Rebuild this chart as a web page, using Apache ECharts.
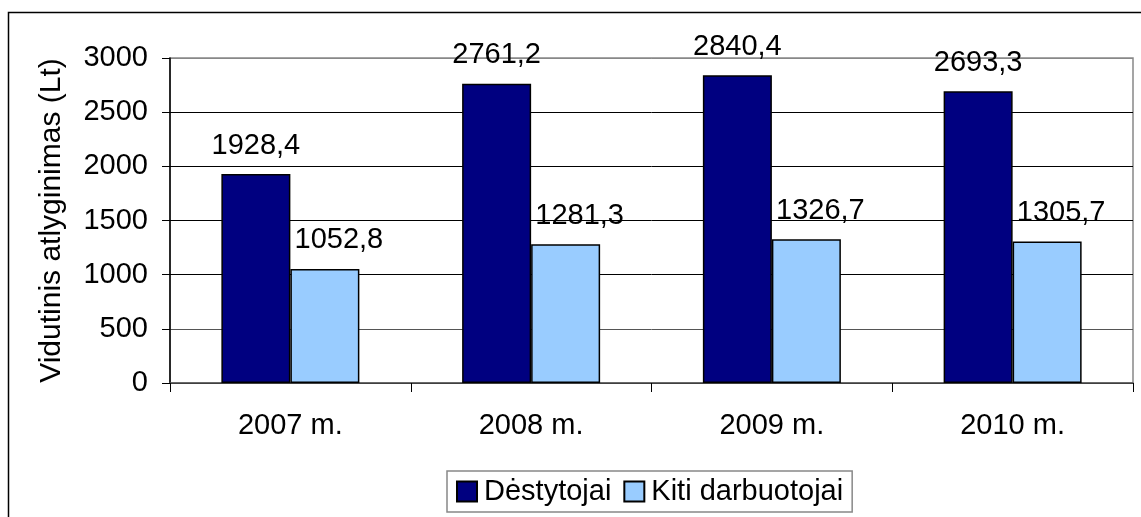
<!DOCTYPE html>
<html>
<head>
<meta charset="utf-8">
<script src="https://cdn.jsdelivr.net/npm/echarts@6/dist/echarts.min.js"></script>
<style>
html,body{margin:0;padding:0;background:#fff;}
#c{width:1141px;height:517px;}
</style>
</head>
<body>
<div id="c"></div>
<script>
const categories = ['2007 m.', '2008 m.', '2009 m.', '2010 m.'];
const destytojai = [1928.4, 2761.2, 2840.4, 2693.3];
const kiti = [1052.8, 1281.3, 1326.7, 1305.7];
const seriesNames = ['Dėstytojai', 'Kiti darbuotojai'];
const yTicks = [0, 500, 1000, 1500, 2000, 2500, 3000];

const FONT = '"Liberation Sans", Arial, sans-serif';
const FS = 29;
const chart = echarts.init(document.getElementById('c'), null, {renderer: 'canvas'});
const fmt = p => String(p.value.toFixed(1)).replace('.', ',');
const labelBase = {
  show: true, position: 'top', distance: 14,
  color: '#000', fontSize: FS, fontFamily: FONT, formatter: fmt
};
chart.setOption({
  animation: false,
  backgroundColor: '#fff',
  textStyle: {fontFamily: FONT},
  graphic: [{
    type: 'rect', silent: true,
    shape: {x: 8.5, y: 12.5, width: 1200, height: 600},
    style: {fill: 'none', stroke: '#000', lineWidth: 1.5}
  }],
  grid: {
    left: 170, right: 8, top: 58, bottom: 134,
    show: true, borderColor: '#888', borderWidth: 1.5, backgroundColor: 'transparent'
  },
  legend: {
    left: 447, top: 471,
    itemWidth: 20, itemHeight: 20, itemGap: 12,
    padding: [6, 9],
    borderColor: '#888', borderWidth: 1.5,
    icon: 'rect',
    textStyle: {fontSize: FS, fontFamily: FONT, color: '#000', padding: [0, 0, 0, 2]},
    data: seriesNames
  },
  xAxis: {
    type: 'category', data: categories,
    axisLine: {lineStyle: {color: '#555', width: 1.5}},
    axisTick: {show: true, length: 9, lineStyle: {color: '#000'}},
    axisLabel: {color: '#000', fontSize: FS, fontFamily: FONT, margin: 28}
  },
  yAxis: {
    type: 'value', min: 0, max: 3000, interval: 500,
    name: 'Vidutinis atlyginimas (Lt)',
    nameLocation: 'middle', nameGap: 103, nameRotate: 90,
    nameTextStyle: {fontSize: 30, fontFamily: FONT, color: '#000'},
    axisLine: {show: true, lineStyle: {color: '#000', width: 1.5}},
    axisTick: {show: true, length: 8, lineStyle: {color: '#000'}},
    axisLabel: {color: '#000', fontSize: FS, fontFamily: FONT, margin: 22,
      formatter: v => yTicks.includes(v) ? String(v) : ''},
    splitLine: {show: true, lineStyle: {color: ['#000', '#555', '#000', '#000', '#000', '#000', '#888'], width: 1}}
  },
  series: [
    {
      name: seriesNames[0], type: 'bar', data: destytojai,
      barWidth: 69, barGap: '0%',
      itemStyle: {color: '#000080', borderColor: '#000', borderWidth: 1.5},
      label: labelBase
    },
    {
      name: seriesNames[1], type: 'bar', data: kiti,
      barWidth: 69, barGap: '0%',
      itemStyle: {color: '#99CCFF', borderColor: '#000', borderWidth: 1.5},
      label: Object.assign({}, labelBase, {offset: [14, 0]})
    }
  ]
});
</script>
</body>
</html>
